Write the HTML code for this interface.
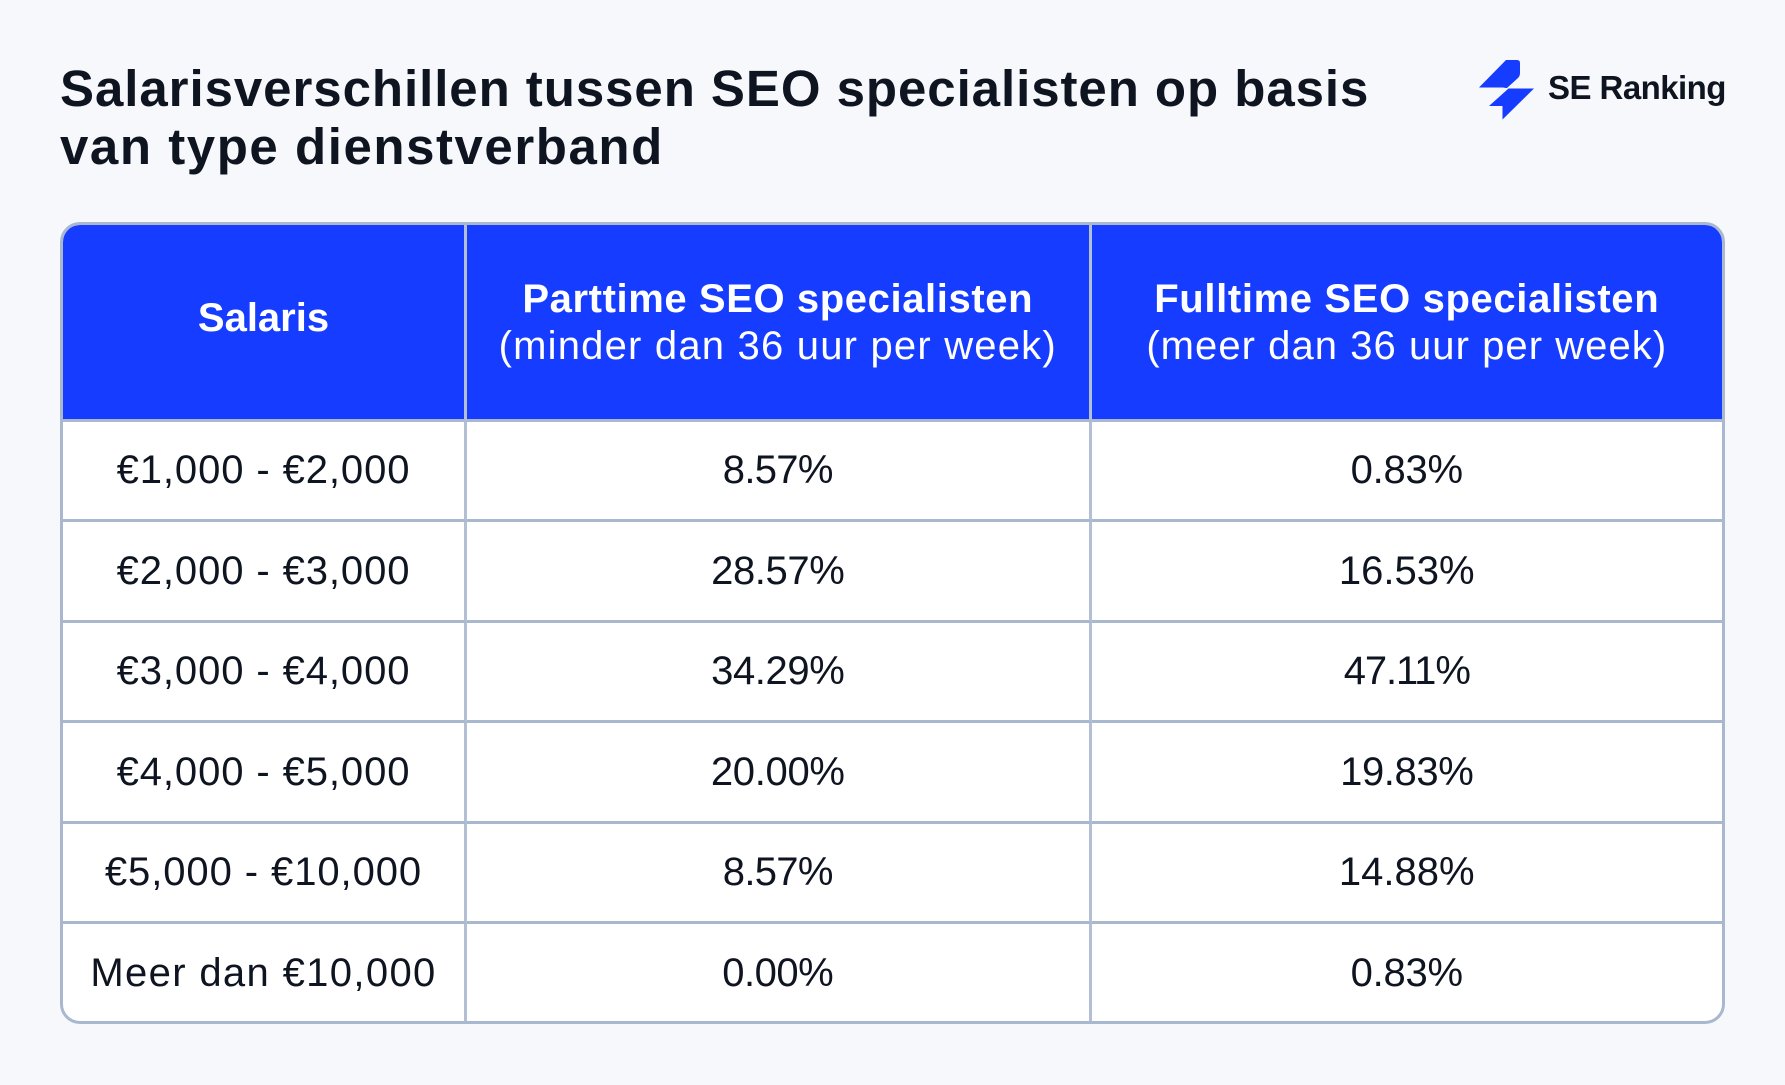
<!DOCTYPE html>
<html lang="nl">
<head>
<meta charset="utf-8">
<title>Salarisverschillen SEO specialisten</title>
<style>
html,body{margin:0;padding:0;background:#f7f8fc;}
body{position:relative;width:1785px;height:1085px;overflow:hidden;font-family:"Liberation Sans",sans-serif;color:#0e1420;}
.title{position:absolute;left:60px;top:60px;margin:0;font-size:51px;line-height:58px;font-weight:700;white-space:nowrap;letter-spacing:.94px;}
.logo-mark{position:absolute;left:1470px;top:55px;}
.logo-text{position:absolute;left:1548px;top:68px;font-size:33px;line-height:40px;font-weight:700;white-space:nowrap;letter-spacing:-.55px;}
.wrap{position:absolute;left:60px;top:222px;width:1659px;height:796px;border:3px solid #a9b8cf;border-radius:20px;overflow:hidden;background:#fff;}
table{border-collapse:separate;border-spacing:0;table-layout:fixed;width:1659px;height:796px;}
th,td{padding:0;text-align:center;vertical-align:middle;box-sizing:border-box;border-right:3px solid #b2bfd4;border-bottom:3px solid #a9b8cf;white-space:nowrap;}
th:last-child,td:last-child{border-right:0;}
tr:last-child td{border-bottom:0;}
th{background:#163dff;color:#fff;font-size:40px;line-height:47px;font-weight:700;padding-top:2px;}
th.salaris{padding-top:0;padding-bottom:7px;}
th .sub{font-weight:400;}
td{font-size:40px;line-height:46px;font-weight:400;}
</style>
</head>
<body>
<h1 class="title">Salarisverschillen tussen SEO specialisten op basis<br><span style="letter-spacing:1.55px">van type dienstverband</span></h1>
<svg class="logo-mark" width="70" height="70" viewBox="0 0 70 70">
<path d="M9 32.500 L36 5 L47 5 Q50 5 50 8 L50 18 Q50 21 48 23 L37 33 Q35 33 33 32.500 Z" fill="#163dff"/>
<path d="M38.500 33.500 L64 33.500 L32.500 64.500 L32.500 51 L19 51 Z" fill="#163dff"/>
</svg>
<div class="logo-text">SE Ranking</div>
<div class="wrap">
<table>
<colgroup><col style="width:404px"><col style="width:624.5px"><col style="width:630.5px"></colgroup>
<thead>
<tr style="height:196.500px">
<th class="salaris">Salaris</th>
<th><span style="letter-spacing:.6px">Parttime SEO specialisten</span><br><span class="sub" style="letter-spacing:1.2px">(minder dan 36 uur per week)</span></th>
<th><span style="letter-spacing:.64px">Fulltime SEO specialisten</span><br><span class="sub" style="letter-spacing:1.05px">(meer dan 36 uur per week)</span></th>
</tr>
</thead>
<tbody>
<tr style="height:100.500px"><td style="letter-spacing:.9px">€1,000 - €2,000</td><td style="letter-spacing:-.7px">8.57%</td><td style="letter-spacing:-.25px">0.83%</td></tr>
<tr style="height:100.500px"><td style="letter-spacing:.9px">€2,000 - €3,000</td><td style="letter-spacing:-.4px">28.57%</td><td>16.53%</td></tr>
<tr style="height:100.500px"><td style="letter-spacing:.9px">€3,000 - €4,000</td><td style="letter-spacing:-.4px">34.29%</td><td style="letter-spacing:-1.1px">47.11%</td></tr>
<tr style="height:100.500px"><td style="letter-spacing:.9px">€4,000 - €5,000</td><td style="letter-spacing:-.3px">20.00%</td><td style="letter-spacing:-.4px">19.83%</td></tr>
<tr style="height:100.500px"><td style="letter-spacing:.92px">€5,000 - €10,000</td><td style="letter-spacing:-.7px">8.57%</td><td>14.88%</td></tr>
<tr style="height:97px"><td style="letter-spacing:1.35px">Meer dan €10,000</td><td style="letter-spacing:-.5px">0.00%</td><td style="letter-spacing:-.25px">0.83%</td></tr>
</tbody>
</table>
</div>
</body>
</html>
